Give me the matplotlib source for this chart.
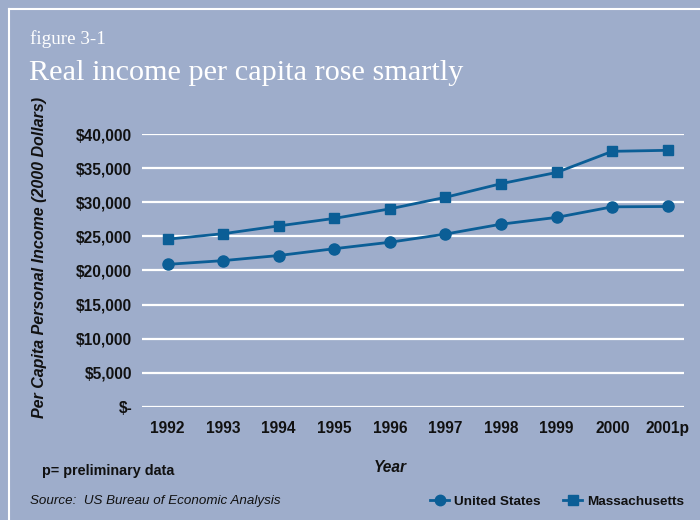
import matplotlib
matplotlib.use("Agg")
import matplotlib.pyplot as plt
from matplotlib.lines import Line2D
from matplotlib.ticker import FuncFormatter

years = ["1992", "1993", "1994", "1995", "1996", "1997", "1998", "1999", "2000", "2001p"]
us_income = [20900, 21450, 22200, 23200, 24150, 25350, 26800, 27800, 29350, 29400]
ma_income = [24600, 25400, 26550, 27650, 29050, 30750, 32750, 34400, 37500, 37650]
y_ticks = [0, 5000, 10000, 15000, 20000, 25000, 30000, 35000, 40000]

BG = "#9eadcb"
LINE = "#0b5e96"
INK = "#111111"

plt.rcParams["font.family"] = ["Liberation Sans", "DejaVu Sans"]

fig = plt.figure(figsize=(7.0, 5.2), dpi=100, facecolor=BG)
ax = fig.add_axes([142 / 700, 1 - 406.7 / 520, 542 / 700, 272.4 / 520])
ax.set_facecolor(BG)

x = list(range(len(years)))
ax.plot(x, us_income, color=LINE, lw=2, marker="o", ms=8, clip_on=False, zorder=3)
ax.plot(x, ma_income, color=LINE, lw=2, marker="s", ms=7, clip_on=False, zorder=3)

ax.set_xlim(-0.459, 9.29)
ax.set_ylim(0, 40000)
ax.set_yticks(y_ticks)
ax.yaxis.set_major_formatter(FuncFormatter(lambda v, p: "$-" if v == 0 else f"${v:,.0f}"))
ax.set_xticks(x)
ax.set_xticklabels(years)
ax.grid(axis="y", color="white", lw=1.6)
ax.set_axisbelow(True)
for s in ax.spines.values():
    s.set_visible(False)
ax.tick_params(axis="both", length=0, labelsize=11.2)
ax.tick_params(axis="y", pad=7)
ax.tick_params(axis="x", pad=10)
for lab in ax.get_xticklabels() + ax.get_yticklabels():
    lab.set_fontweight("bold")
    lab.set_color(INK)

fig.text(40 / 700, 1 - 257.5 / 520, "Per Capita Personal Income (2000 Dollars)", rotation=90,
         ha="center", va="center", fontsize=11.5, fontweight="bold", fontstyle="italic", color=INK)
fig.text(390 / 700, 1 - 467 / 520, "Year", ha="center", va="center", fontsize=11.2,
         fontweight="bold", fontstyle="italic", color=INK)
fig.text(41.5 / 700, 1 - 471 / 520, "p= preliminary data", ha="left", va="center", fontsize=10.4,
         fontweight="bold", color=INK)
fig.text(30 / 700, 1 - 501 / 520, "Source:  US Bureau of Economic Analysis", ha="left", va="center",
         fontsize=9.6, fontstyle="italic", color=INK)

fig.text(30 / 700, 1 - 39.5 / 520, "figure 3-1", ha="left", va="center", fontsize=13.7,
         family=["Liberation Serif", "DejaVu Serif"], color="white")
fig.text(29 / 700, 1 - 73 / 520, "Real income per capita rose smartly", ha="left", va="center",
         fontsize=21.8, family=["Liberation Serif", "DejaVu Serif"], color="white")

# white frame
fig.add_artist(Line2D([8.5 / 700, 8.5 / 700], [0, 1 - 8.5 / 520], color="white", lw=1.5,
                      transform=fig.transFigure))
fig.add_artist(Line2D([8.5 / 700, 1], [1 - 8.5 / 520, 1 - 8.5 / 520], color="white", lw=1.5,
                      transform=fig.transFigure))

handles = [Line2D([], [], color=LINE, lw=2, marker="o", ms=7.5),
           Line2D([], [], color=LINE, lw=2, marker="s", ms=6.5)]
leg = fig.legend(handles, ["United States", "Massachusetts"], loc="center right",
                 bbox_to_anchor=(696 / 700, 1 - 501.5 / 520), ncol=2, frameon=False,
                 handlelength=1.4, handletextpad=0.35, columnspacing=1.7,
                 prop={"weight": "bold", "size": 9.7})
for t in leg.get_texts():
    t.set_color(INK)

fig.savefig("out.png", dpi=100, facecolor=BG)
